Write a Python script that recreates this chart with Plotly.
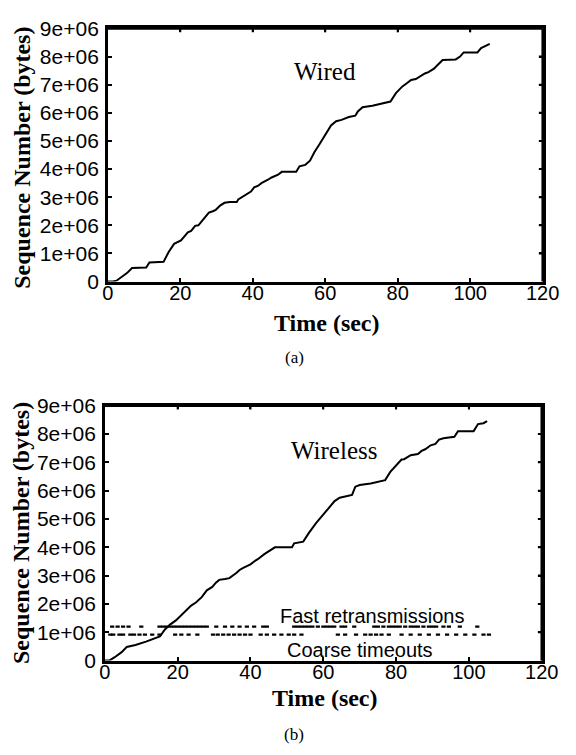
import plotly.graph_objects as go

W, H = 576, 755

# ---------------- data (sequence numbers in units of 1e6 bytes) ----------------
wired_t = [0, 1.4, 2.4, 3.8, 5.3, 6.7, 10.6, 11.5, 15.4, 16.8, 18.3, 20.2, 21, 22.1, 23, 24.1,
           25, 26, 27, 27.9, 29, 29.8, 31, 32.2, 33.7, 35.6, 36, 37.5, 38.5, 39.5, 40.4, 41.4,
           42.4, 43.3, 44.2, 45.2, 47, 48, 52, 52.9, 54.5, 55.8, 57, 58.5, 60, 61.6, 63, 64.5,
           66.5, 68.3, 69, 70.3, 73, 75, 78, 79.5, 81.3, 82.5, 83.7, 85, 86.6, 87.5, 88.5, 90,
           91, 92.4, 96, 97.2, 98.2, 102, 103, 104.5, 105.4]
wired_seq = [0, 0, 0.03, 0.15, 0.3, 0.48, 0.5, 0.68, 0.7, 1.05, 1.34, 1.46, 1.6, 1.75, 1.8, 1.98,
             2.0, 2.16, 2.3, 2.45, 2.5, 2.55, 2.7, 2.8, 2.83, 2.83, 2.92, 3.04, 3.15, 3.2, 3.35, 3.4,
             3.5, 3.55, 3.62, 3.7, 3.8, 3.9, 3.9, 4.1, 4.15, 4.3, 4.6, 4.9, 5.2, 5.55, 5.7, 5.75,
             5.85, 5.9, 6.05, 6.2, 6.25, 6.3, 6.4, 6.7, 6.94, 7.05, 7.17, 7.2, 7.34, 7.4, 7.45, 7.57,
             7.7, 7.88, 7.9, 8.0, 8.15, 8.15, 8.3, 8.4, 8.45]

wireless_t = [0, 1.2, 2.7, 4.6, 6, 8.4, 11.3, 12.7, 15.1, 16.5, 17.9, 19.5, 20.8, 22, 23.7, 25,
              26.6, 28, 29.5, 30.5, 31.4, 33, 34.2, 36.1, 37, 38, 40, 41, 42, 43.8, 44.8, 46.7,
              51.4, 52, 54.5, 56, 58, 60, 61.5, 63.1, 64.5, 66, 67.9, 68.8, 70, 73, 76.5, 77,
              78.4, 80.3, 81.5, 82.2, 84, 86, 87, 88, 89.5, 90.8, 91.8, 93, 96, 97, 101.3, 102.5,
              104, 105]
wireless_seq = [0, 0, 0.12, 0.3, 0.48, 0.55, 0.67, 0.73, 0.85, 1.1, 1.27, 1.42, 1.58, 1.75, 1.94, 2.05,
                2.24, 2.48, 2.6, 2.75, 2.85, 2.88, 2.91, 3.09, 3.2, 3.27, 3.4, 3.5, 3.58, 3.76, 3.85, 4.0,
                4.0, 4.14, 4.2, 4.5, 4.85, 5.15, 5.4, 5.63, 5.75, 5.8, 5.85, 6.14, 6.2, 6.25, 6.35, 6.37,
                6.66, 6.94, 7.1, 7.11, 7.25, 7.29, 7.4, 7.46, 7.6, 7.65, 7.8, 7.85, 7.9, 8.1, 8.1, 8.35,
                8.38, 8.45]

fast_retx_t = [2, 3.5, 5, 6.5, 10, 15, 16, 17, 18, 19, 20, 21, 22, 23, 24, 25, 26, 27, 28,
               30.6, 33, 35, 37, 39, 41, 43.5, 44.5, 52, 53, 54, 55, 56, 57, 58.5, 60, 61, 62, 63,
               65, 66, 68.5, 74, 75, 76.5, 78, 79, 80, 81, 82.5, 84, 85, 86, 87.5, 89, 90, 91, 93,
               94.5, 97.5, 102.3]
fast_retx_level = 1.2

coarse_to_t = [1.5, 2.3, 4, 5, 7, 8, 9.5, 11, 13, 15, 19.3, 21, 23, 25.4, 29.7, 31, 32.5, 34,
               35.5, 37, 38.5, 40, 42.8, 44.5, 46.5, 48.5, 50.5, 52, 54, 64, 66, 69, 71.5, 73,
               74.5, 76, 78, 81.5, 84, 86.5, 89, 91.5, 94, 96.5, 99, 101.5, 104, 105.5]
coarse_to_level = 0.92

y_ticks = [0, 1, 2, 3, 4, 5, 6, 7, 8, 9]
y_tick_text = ["0", "1e+06", "2e+06", "3e+06", "4e+06", "5e+06", "6e+06", "7e+06", "8e+06", "9e+06"]
x_ticks = [0, 20, 40, 60, 80, 100, 120]

E6 = 1e6

# ---------------- geometry (pixels) ----------------
def px(x):
    return x / W

def py(y):
    return 1 - y / H

top_box = dict(x0=106, x1=559, y0=17, y1=278)
bot_box = dict(x0=103, x1=558, y0=406, y1=669)

fig = go.Figure()

fig.add_trace(go.Scatter(x=wired_t, y=[v * E6 for v in wired_seq], mode="lines",
                         line=dict(color="black", width=2), xaxis="x", yaxis="y",
                         showlegend=False, hoverinfo="skip"))
fig.add_trace(go.Scatter(x=wireless_t, y=[v * E6 for v in wireless_seq], mode="lines",
                         line=dict(color="black", width=2), xaxis="x2", yaxis="y2",
                         showlegend=False, hoverinfo="skip"))
dot = dict(symbol="line-ew", size=3, line=dict(color="black", width=2.2))
fig.add_trace(go.Scatter(x=fast_retx_t, y=[fast_retx_level * E6] * len(fast_retx_t), mode="markers",
                         marker=dot, xaxis="x2", yaxis="y2", showlegend=False, hoverinfo="skip"))
fig.add_trace(go.Scatter(x=coarse_to_t, y=[coarse_to_level * E6] * len(coarse_to_t), mode="markers",
                         marker=dot, xaxis="x2", yaxis="y2", showlegend=False, hoverinfo="skip"))

y_tick_font = dict(family="Liberation Sans, Arial, sans-serif", size=21, color="black")
x_tick_font = dict(family="Liberation Sans, Arial, sans-serif", size=20, color="black")

def make_xaxis(box, anchor):
    return dict(domain=[px(box["x0"]), px(box["x1"])], range=[0, 120], anchor=anchor,
                tickvals=x_ticks, ticks="inside", ticklen=4, tickwidth=2, tickcolor="black",
                showline=True, linewidth=2.5, linecolor="black", mirror="allticks",
                showgrid=False, zeroline=False, tickfont=x_tick_font, ticklabelstandoff=-8)

def make_yaxis(box, anchor):
    return dict(domain=[py(box["y1"]), py(box["y0"])], range=[0, 9 * E6], anchor=anchor,
                tickvals=[v * E6 for v in y_ticks], ticktext=y_tick_text,
                ticks="inside", ticklen=4, tickwidth=2, tickcolor="black",
                showline=True, linewidth=2.5, linecolor="black", mirror="allticks",
                showgrid=False, zeroline=False, tickfont=y_tick_font, ticklabelstandoff=2)

serif_b = dict(family="Liberation Serif, Times New Roman, serif", size=24, color="black")
serif = dict(family="Liberation Serif, Times New Roman, serif", size=25, color="black")
serif_cap = dict(family="Liberation Serif, Times New Roman, serif", size=17, color="black")
sans = dict(family="Liberation Sans, Arial, sans-serif", size=20, color="black")

annotations = [
    dict(text="<b>Time (sec)</b>", x=px(334), y=py(321), xref="paper", yref="paper",
         showarrow=False, font=serif_b, xanchor="center", yanchor="middle"),
    dict(text="<b>Sequence Number (bytes)</b>", x=px(17), y=py(150), xref="paper", yref="paper",
         showarrow=False, font=serif_b, textangle=-90, xanchor="center", yanchor="middle"),
    dict(text="(a)", x=px(300), y=py(356), xref="paper", yref="paper",
         showarrow=False, font=serif_cap, xanchor="center", yanchor="middle"),
    dict(text="<b>Time (sec)</b>", x=px(332), y=py(708), xref="paper", yref="paper",
         showarrow=False, font=serif_b, xanchor="center", yanchor="middle"),
    dict(text="<b>Sequence Number (bytes)</b>", x=px(15), y=py(537), xref="paper", yref="paper",
         showarrow=False, font=serif_b, textangle=-90, xanchor="center", yanchor="middle"),
    dict(text="(b)", x=px(300), y=py(745), xref="paper", yref="paper",
         showarrow=False, font=serif_cap, xanchor="center", yanchor="middle"),
    dict(text="Wired", x=60.0, y=7.47 * E6, xref="x", yref="y", showarrow=False,
         font=serif, xanchor="center", yanchor="middle"),
    dict(text="Wireless", x=63.0, y=7.43 * E6, xref="x2", yref="y2", showarrow=False,
         font=serif, xanchor="center", yanchor="middle"),
    dict(text="Fast retransmissions", x=73.5, y=1.57 * E6, xref="x2", yref="y2", showarrow=False,
         font=sans, xanchor="center", yanchor="middle"),
    dict(text="Coarse timeouts", x=70.0, y=0.38 * E6, xref="x2", yref="y2", showarrow=False,
         font=sans, xanchor="center", yanchor="middle"),
]

# frame: top and right sides of each box, plus their inward tick marks
shapes = []
for b, xa, ya in ((top_box, "x", "y"), (bot_box, "x2", "y2")):
    line = dict(color="black", width=2.5)
    shapes.append(dict(type="line", xref="paper", yref="paper", x0=px(b["x0"]), x1=px(b["x1"]),
                       y0=py(b["y0"]), y1=py(b["y0"]), line=line))
    shapes.append(dict(type="line", xref="paper", yref="paper", x0=px(b["x1"]), x1=px(b["x1"]),
                       y0=py(b["y0"]), y1=py(b["y1"]), line=line))
    for t in x_ticks[1:-1]:
        shapes.append(dict(type="line", xref=xa, yref="paper", x0=t, x1=t,
                           y0=py(b["y0"]), y1=py(b["y0"] + 4), line=dict(color="black", width=2)))
    for v in y_ticks[1:-1]:
        shapes.append(dict(type="line", xref="paper", yref=ya, x0=px(b["x1"]), x1=px(b["x1"] - 4),
                           y0=v * E6, y1=v * E6, line=dict(color="black", width=2)))

fig.update_layout(
    width=W, height=H, margin=dict(l=0, r=0, t=0, b=0),
    paper_bgcolor="white", plot_bgcolor="white",
    xaxis=make_xaxis(top_box, "y"), yaxis=make_yaxis(top_box, "x"),
    xaxis2=make_xaxis(bot_box, "y2"), yaxis2=make_yaxis(bot_box, "x2"),
    annotations=annotations, shapes=shapes, showlegend=False,
)

fig.write_html("out.html")
